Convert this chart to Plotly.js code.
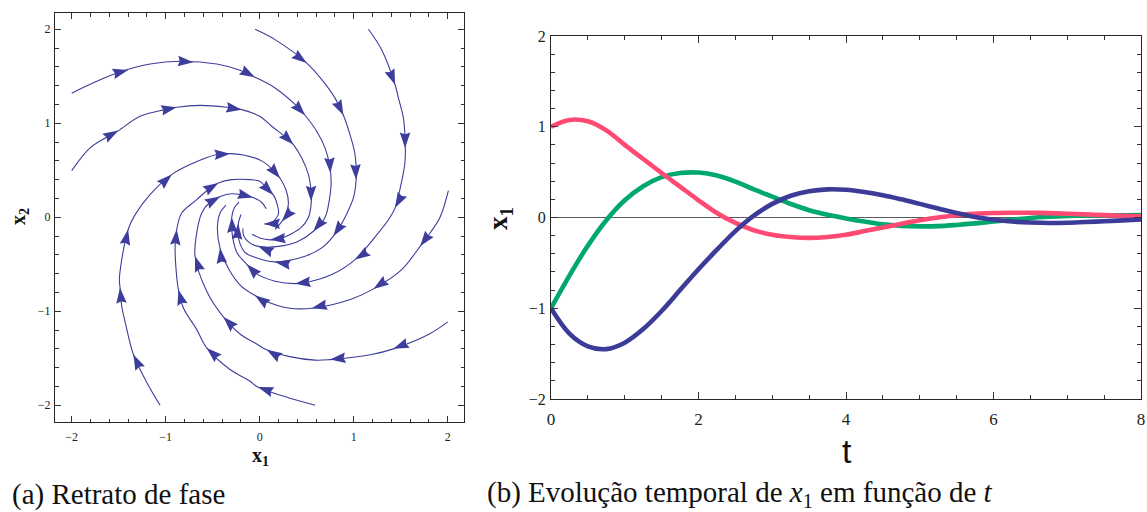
<!DOCTYPE html>
<html><head><meta charset="utf-8">
<script src="https://cdn.plot.ly/plotly-3.0.1.min.js"></script>
<style>html,body{margin:0;padding:0;background:#fff}#chart{width:1147px;height:512px}</style>
</head><body><div id="chart"></div>
<script>
// ---------- (a) phase portrait: streamlines ----------
const sA_x = [-2.0, -1.77, -1.52, -1.167, -0.848, -0.457, -0.209, -0.05, 0.163, 0.376, 0.482, 0.606, 0.695, 0.748, 0.759, 0.738, 0.695, 0.571, 0.40, 0.20, -0.014, -0.11, -0.17, -0.18];
const sA_y = [1.32, 1.43, 1.535, 1.63, 1.66, 1.63, 1.564, 1.49, 1.376, 1.20, 1.085, 0.915, 0.738, 0.525, 0.348, 0.17, 0.0, -0.149, -0.26, -0.31, -0.31, -0.27, -0.20, -0.12];
const aA_x = [-1.40, -0.706, -0.05, 0.482, 0.748, 0.571, -0.014];
const aA_y = [1.57, 1.65, 1.49, 1.085, 0.47, -0.149, -0.31];

const sB_x = [-2.0, -1.805, -1.61, -1.504, -1.273, -1.007, -0.883, -0.635, -0.351, -0.191, 0.0, 0.128, 0.287, 0.358, 0.447, 0.518, 0.546, 0.546, 0.518, 0.45, 0.33, 0.20, 0.11, 0.0, -0.08];
const sB_y = [0.496, 0.738, 0.862, 0.922, 1.074, 1.145, 1.17, 1.19, 1.17, 1.145, 1.074, 0.968, 0.844, 0.773, 0.631, 0.454, 0.277, 0.135, 0.0, -0.1, -0.18, -0.23, -0.24, -0.22, -0.18];
const aB_x = [-1.504, -0.883, -0.191, 0.358, 0.546, 0.11];
const aB_y = [0.922, 1.17, 1.145, 0.773, 0.17, -0.24];

const sC_x = [-1.06, -1.2, -1.344, -1.43, -1.468, -1.486, -1.493, -1.468, -1.40, -1.33, -1.167, -0.936, -0.741, -0.457, -0.316, -0.174, 0.02, 0.145, 0.216, 0.28, 0.305, 0.28, 0.234, 0.163];
const sC_y = [-2.0, -1.76, -1.46, -1.12, -0.947, -0.75, -0.663, -0.45, -0.13, 0.02, 0.241, 0.454, 0.56, 0.667, 0.677, 0.663, 0.6, 0.5, 0.415, 0.29, 0.149, 0.025, -0.046, -0.128];
const aC_x = [-1.344, -1.486, -1.40, -0.936, -0.316, 0.216, 0.234];
const aC_y = [-1.46, -0.75, -0.13, 0.454, 0.677, 0.415, -0.046];

const sD_x = [0.589, 0.305, -0.032, -0.103, -0.316, -0.564, -0.67, -0.812, -0.865, -0.89, -0.90, -0.883, -0.83, -0.67, -0.528, -0.44, -0.298, -0.103, 0.0, 0.074, 0.145, 0.19, 0.2, 0.174, 0.11, 0.05];
const sD_y = [-2.0, -1.92, -1.80, -1.745, -1.62, -1.39, -1.195, -0.965, -0.77, -0.557, -0.31, -0.13, 0.046, 0.188, 0.312, 0.365, 0.40, 0.40, 0.383, 0.31, 0.238, 0.12, 0.04, -0.01, -0.07, -0.07];
const aD_x = [-0.02, -0.564, -0.865, -0.883, -0.44, 0.145, 0.05];
const aD_y = [-1.81, -1.39, -0.77, -0.13, 0.365, 0.238, -0.07];

const sCp_x = [-0.05, 0.163, 0.5, 0.66, 0.80, 0.89, 0.96, 1.014, 1.025, 0.996, 0.908, 0.855, 0.784, 0.66, 0.482, 0.163, 0.021, -0.05, -0.15, -0.21, -0.235, -0.227, -0.2];
const sCp_y = [2.0, 1.89, 1.64, 1.465, 1.27, 1.085, 0.879, 0.667, 0.40, 0.206, 0.0, -0.096, -0.2, -0.326, -0.415, -0.475, -0.45, -0.426, -0.38, -0.28, -0.16, -0.06, 0.03];
const aCp_x = [0.5, 0.89, 1.025, 0.784, 0.163, -0.227];
const aCp_y = [1.64, 1.085, 0.40, -0.2, -0.475, -0.07];

const sDp_x = [1.156, 1.298, 1.44, 1.475, 1.528, 1.546, 1.546, 1.51, 1.44, 1.387, 1.262, 1.014, 0.766, 0.518, 0.376, 0.163, -0.05, -0.138, -0.24, -0.29, -0.298, -0.27, -0.22];
const sDp_y = [2.0, 1.78, 1.41, 1.27, 1.057, 0.844, 0.596, 0.383, 0.1, 0.0, -0.167, -0.45, -0.61, -0.688, -0.706, -0.68, -0.592, -0.5, -0.38, -0.2, 0.0, 0.1, 0.16];
const aDp_x = [1.44, 1.546, 1.44, 1.014, 0.376, -0.138, -0.298];
const aDp_y = [1.41, 0.738, 0.1, -0.45, -0.706, -0.5, 0.0];

const sEp_x = [2.007, 1.918, 1.812, 1.706, 1.51, 1.21, 0.979, 0.553, 0.305, 0.092, -0.05, -0.2, -0.33, -0.422, -0.45, -0.42, -0.36];
const sEp_y = [0.284, 0.0, -0.167, -0.309, -0.557, -0.762, -0.869, -0.968, -0.965, -0.904, -0.833, -0.73, -0.55, -0.33, -0.1, 0.05, 0.13];
const aEp_x = [1.706, 1.21, 0.553, -0.05, -0.422];
const aEp_y = [-0.309, -0.762, -0.968, -0.833, -0.326];

const sL_x = [2.0, 1.794, 1.422, 1.19, 0.748, 0.589, 0.305, 0.074, -0.05, -0.2, -0.387, -0.564, -0.688, -0.67, -0.617, -0.53, -0.42, -0.30, -0.17, -0.07, 0.02, 0.07];
const sL_y = [-1.113, -1.248, -1.40, -1.46, -1.514, -1.52, -1.48, -1.41, -1.337, -1.25, -1.06, -0.787, -0.415, -0.167, 0.046, 0.16, 0.22, 0.25, 0.235, 0.21, 0.16, 0.09];
const aL_x = [1.422, 0.748, 0.074, -0.387, -0.688, -0.42, -0.07];
const aL_y = [-1.40, -1.514, -1.41, -1.06, -0.415, 0.22, 0.21];

// ---------- (b) x1(t) ----------
const tVals = [0, 0.25, 0.5, 0.75, 1.0, 1.25, 1.5, 1.75, 2.0, 2.25, 2.5, 2.75, 3.0, 3.25, 3.5, 3.75, 4.0, 4.25, 4.5, 4.75, 5.0, 5.25, 5.5, 5.75, 6.0, 6.25, 6.5, 6.75, 7.0, 7.25, 7.5, 7.75, 8.0];
const x1Pink  = [1.0, 1.075, 1.06, 0.96, 0.80, 0.645, 0.49, 0.34, 0.19, 0.05, -0.06, -0.14, -0.19, -0.215, -0.225, -0.215, -0.19, -0.15, -0.11, -0.07, -0.03, 0.0, 0.025, 0.04, 0.05, 0.053, 0.052, 0.048, 0.042, 0.034, 0.026, 0.018, 0.012];
const x1Green = [-1.0, -0.64, -0.31, -0.03, 0.19, 0.345, 0.445, 0.49, 0.495, 0.462, 0.395, 0.31, 0.23, 0.15, 0.08, 0.03, -0.01, -0.045, -0.075, -0.092, -0.098, -0.095, -0.082, -0.065, -0.045, -0.025, -0.005, 0.008, 0.016, 0.021, 0.024, 0.025, 0.026];
const x1Blue  = [-1.0, -1.28, -1.42, -1.45, -1.38, -1.23, -1.03, -0.80, -0.57, -0.355, -0.15, 0.02, 0.15, 0.24, 0.29, 0.31, 0.305, 0.28, 0.245, 0.2, 0.15, 0.1, 0.05, 0.005, -0.025, -0.045, -0.055, -0.06, -0.058, -0.05, -0.042, -0.032, -0.022];

const phaseTicks = [-2, -1, 0, 1, 2];
const timeTicks = [0, 2, 4, 6, 8];
const x1Ticks = [-2, -1, 0, 1, 2];

// ---------- build ----------
const W = 1147, H = 512;
const fx = p => p / W, fy = p => 1 - p / H;
const STREAM = '#3d3d9c';
const SERIF = 'Liberation Serif';

const streams = [
  [sA_x, sA_y, aA_x, aA_y], [sB_x, sB_y, aB_x, aB_y], [sC_x, sC_y, aC_x, aC_y],
  [sD_x, sD_y, aD_x, aD_y], [sCp_x, sCp_y, aCp_x, aCp_y], [sDp_x, sDp_y, aDp_x, aDp_y],
  [sEp_x, sEp_y, aEp_x, aEp_y], [sL_x, sL_y, aL_x, aL_y]
];
const traces = [], shapes = [];
streams.forEach(([xs, ys, ax, ay]) => {
  traces.push({type: 'scatter', mode: 'lines', x: xs, y: ys, xaxis: 'x', yaxis: 'y',
    line: {color: STREAM, width: 1.1, shape: 'spline', smoothing: 1}, hoverinfo: 'skip', showlegend: false});
  ax.forEach((tx, k) => {
    const ty = ay[k];
    let best = 1e9, bx = tx, by = ty, dx = 1, dy = 0;
    for (let i = 0; i < xs.length - 1; i++) {
      const vx = xs[i + 1] - xs[i], vy = ys[i + 1] - ys[i];
      const L2 = vx * vx + vy * vy; if (!L2) continue;
      let u = ((tx - xs[i]) * vx + (ty - ys[i]) * vy) / L2; u = Math.max(0, Math.min(1, u));
      const qx = xs[i] + u * vx, qy = ys[i] + u * vy;
      const d = (qx - tx) ** 2 + (qy - ty) ** 2;
      if (d < best) { best = d; bx = qx; by = qy; const l = Math.sqrt(L2); dx = vx / l; dy = vy / l; }
    }
    const L = 0.165, w = 0.056, nx = -dy, ny = dx;
    const b1x = bx - L * dx + w * nx, b1y = by - L * dy + w * ny;
    const b2x = bx - L * dx - w * nx, b2y = by - L * dy - w * ny;
    const cx = bx - 0.88 * L * dx, cy = by - 0.88 * L * dy;
    shapes.push({type: 'path', xref: 'x', yref: 'y',
      path: `M${bx},${by}L${b1x},${b1y}L${cx},${cy}L${b2x},${b2y}Z`,
      fillcolor: STREAM, line: {width: 0}, layer: 'above'});
  });
});

const tsLine = (y, color) => ({type: 'scatter', mode: 'lines', x: tVals, y: y, xaxis: 'x2', yaxis: 'y2',
  line: {color: color, width: 4.6, shape: 'spline', smoothing: 1}, hoverinfo: 'skip', showlegend: false});
traces.push(tsLine(x1Green, '#00a86e'));
traces.push(tsLine(x1Pink, '#ff4a74'));
traces.push(tsLine(x1Blue, '#3c3c98'));

const axBase = {showline: true, mirror: 'allticks', linecolor: '#262626', linewidth: 1, showgrid: false,
  ticks: 'inside', tickcolor: '#333', tickwidth: 1, fixedrange: true};

const layout = {
  width: W, height: H, margin: {l: 0, r: 0, t: 0, b: 0}, paper_bgcolor: '#fff', plot_bgcolor: '#fff',
  showlegend: false,
  xaxis: Object.assign({}, axBase, {domain: [fx(55), fx(464)], range: [-2.178, 2.173], anchor: 'y',
    tickmode: 'array', tickvals: phaseTicks, ticklen: 6, zeroline: false,
    minor: {dtick: 0.2, tick0: 0, ticks: 'inside', ticklen: 3.5, tickcolor: '#333', showgrid: false},
    tickfont: {family: SERIF, size: 12, color: '#222'}, ticklabelstandoff: 4}),
  yaxis: Object.assign({}, axBase, {domain: [fy(422), fy(13)], range: [-2.178, 2.173], anchor: 'x',
    tickmode: 'array', tickvals: phaseTicks, ticklen: 6, zeroline: false,
    minor: {dtick: 0.2, tick0: 0, ticks: 'inside', ticklen: 3.5, tickcolor: '#333', showgrid: false},
    tickfont: {family: SERIF, size: 12, color: '#222'}, ticklabelstandoff: 1}),
  xaxis2: Object.assign({}, axBase, {domain: [fx(551), fx(1141)], range: [0, 8], anchor: 'y2',
    tickmode: 'array', tickvals: timeTicks, ticklen: 7, zeroline: false,
    minor: {dtick: 0.5, tick0: 0, ticks: 'inside', ticklen: 4, tickcolor: '#333', showgrid: false},
    tickfont: {family: SERIF, size: 17, color: '#222'}, ticklabelstandoff: 5}),
  yaxis2: Object.assign({}, axBase, {domain: [fy(399), fy(36)], range: [-2, 2], anchor: 'x2',
    tickmode: 'array', tickvals: x1Ticks, ticklen: 7,
    zeroline: true, zerolinecolor: '#5a5a5a', zerolinewidth: 1.5,
    minor: {dtick: 0.2, tick0: 0, ticks: 'inside', ticklen: 4, tickcolor: '#333', showgrid: false},
    tickfont: {family: SERIF, size: 16, color: '#222'}, ticklabelstandoff: 1}),
  shapes: shapes,
  annotations: [
    {text: '<b>x<sub>1</sub></b>', x: fx(260), y: fy(456), xref: 'paper', yref: 'paper', showarrow: false,
      xanchor: 'center', yanchor: 'middle', font: {family: SERIF, size: 20, color: '#111'}},
    {text: '<b>x<sub>2</sub></b>', x: fx(19), y: fy(217), xref: 'paper', yref: 'paper', showarrow: false,
      textangle: -90, xanchor: 'center', yanchor: 'middle', font: {family: SERIF, size: 20, color: '#111'}},
    {text: '<b>x<sub>1</sub></b>', x: fx(500), y: fy(219), xref: 'paper', yref: 'paper', showarrow: false,
      textangle: -90, xanchor: 'center', yanchor: 'middle', font: {family: SERIF, size: 27, color: '#111'}},
    {text: 't', x: fx(847), y: fy(451), xref: 'paper', yref: 'paper', showarrow: false,
      xanchor: 'center', yanchor: 'middle', font: {family: 'Liberation Sans', size: 34, color: '#111'}},
    {text: '(a) Retrato de fase', x: fx(10), y: fy(494), xref: 'paper', yref: 'paper', showarrow: false,
      xanchor: 'left', yanchor: 'middle', font: {family: SERIF, size: 29, color: '#111'}},
    {text: '(b) Evolução temporal de <i>x</i><sub>1</sub> em função de <i>t</i>', x: fx(485), y: fy(494),
      xref: 'paper', yref: 'paper', showarrow: false, xanchor: 'left', yanchor: 'middle',
      font: {family: SERIF, size: 29, color: '#111'}}
  ]
};

Plotly.newPlot('chart', traces, layout, {staticPlot: true, displayModeBar: false});
</script>
</body></html>
